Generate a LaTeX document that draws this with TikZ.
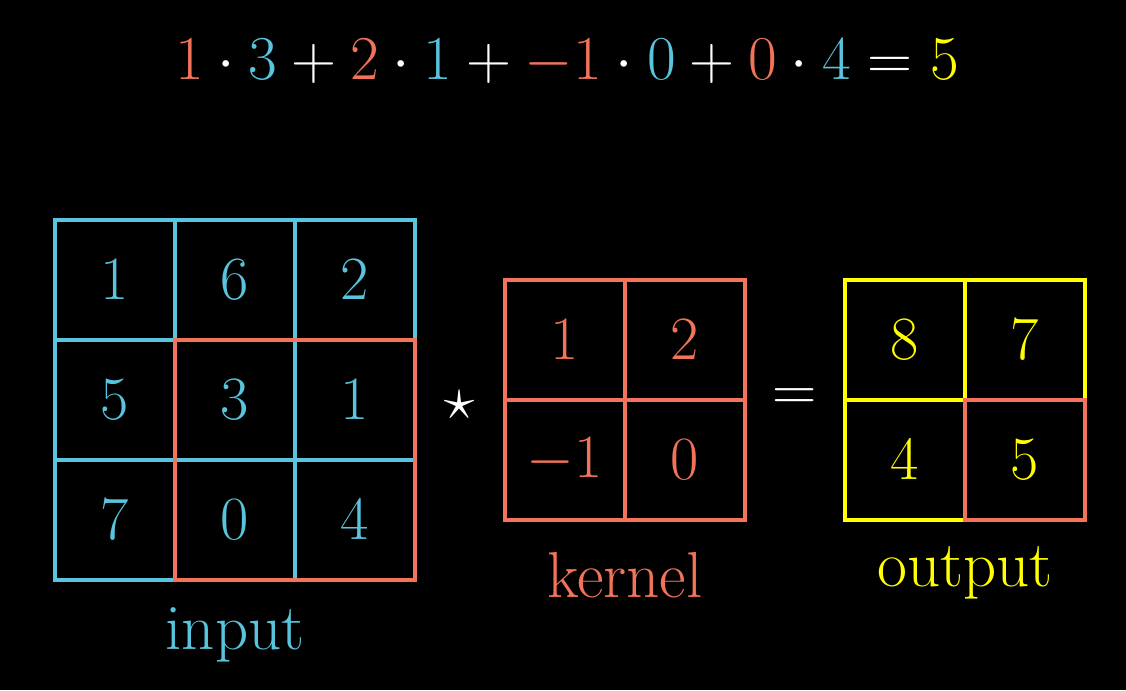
\RequirePackage{fix-cm}
\documentclass[tikz,border=0pt]{standalone}
\usepackage{amsmath}
\definecolor{mblue}{HTML}{58C4DD}
\definecolor{mred}{HTML}{F2735A}
\definecolor{myel}{HTML}{FFFF00}
\begin{document}
\begin{tikzpicture}[x=0.02cm,y=-0.02cm,
  cell/.style={draw,line width=0.085cm,minimum size=2.4cm,inner sep=0pt,outer sep=0pt,font=\fontsize{35}{40}\selectfont},
  num/.style={font=\fontsize{35}{40}\selectfont},
  frame/.style={line width=0.085cm},
  lbl/.style={font=\fontsize{37}{42}\selectfont}]
\fill[black] (0,0) rectangle (1126,690);
\useasboundingbox (0,0) rectangle (1126,690);
% input
\foreach \r/\y in {1/280,2/400,3/520}{
  \foreach \c/\x in {1/115,2/235,3/355}{
    \node[cell,mblue] (i\r\c) at (\x,\y) {};
  }}
\node[num,mblue] at (i11) {$1$};
\node[num,mblue] at (i12) {$6$};
\node[num,mblue] at (i13) {$2$};
\node[num,mblue] at (i21) {$5$};
\node[num,mblue] at (i22) {$3$};
\node[num,mblue] at (i23) {$1$};
\node[num,mblue] at (i31) {$7$};
\node[num,mblue] at (i32) {$0$};
\node[num,mblue] at (i33) {$4$};
\draw[frame,mred] (i22.north west) rectangle (i33.south east);
\node[lbl,mblue] (inlbl) at (235,635) {input};
% star
\node[white,num] (star) at (460,405) {$\star$};
% kernel
\node[cell,mred] (k11) at (565,340) {$1$};
\node[cell,mred] (k12) at (685,340) {$2$};
\node[cell,mred] (k21) at (565,460) {$-1$};
\node[cell,mred] (k22) at (685,460) {$0$};
\node[lbl,mred] (klbl) at (625,575) {kernel};
% equals
\node[white,num] (eq) at (795,400) {$=$};
% output
\node[cell,myel] (o11) at (905,340) {$8$};
\node[cell,myel] (o12) at (1025,340) {$7$};
\node[cell,myel] (o21) at (905,460) {$4$};
\node[cell,myel] (o22) at (1025,460) {$5$};
\draw[frame,mred] (o22.north west) rectangle (o22.south east);
\node[lbl,myel] (olbl) at (965,573) {output};
% equation
\node[white,font=\fontsize{35.5}{40}\selectfont] (formula) at (567,62)
 {$\textcolor{mred}{1}\cdot\textcolor{mblue}{3}+\textcolor{mred}{2}\cdot\textcolor{mblue}{1}+\textcolor{mred}{-1}\cdot\textcolor{mblue}{0}+\textcolor{mred}{0}\cdot\textcolor{mblue}{4}=\textcolor{myel}{5}$};
\end{tikzpicture}
\end{document}
